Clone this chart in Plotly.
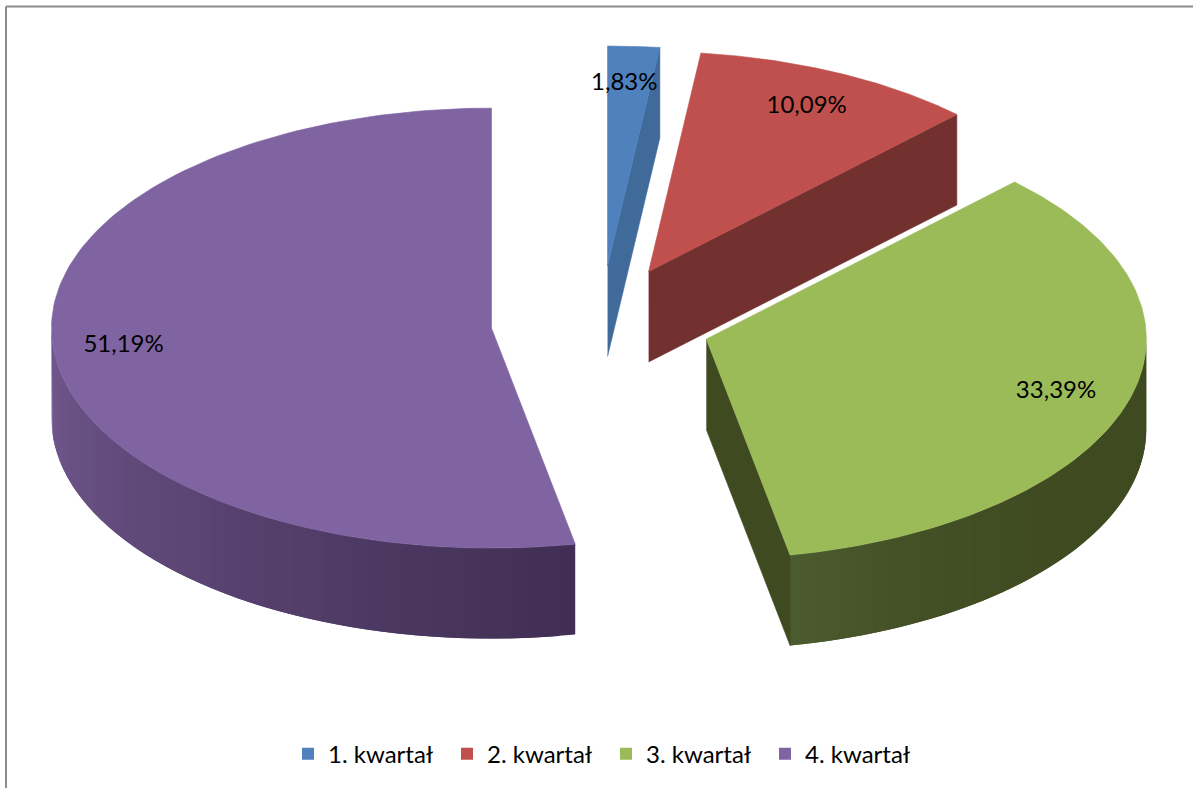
import numpy as np
import plotly.graph_objects as go

# Data
categories = ["1. kwartał", "2. kwartał", "3. kwartał", "4. kwartał"]
values = [1.83, 10.09, 33.39, 51.19]
value_labels = ["1,83%", "10,09%", "33,39%", "51,19%"]

# Styling
top_colors = ["#4f81bd", "#c0504d", "#9bbb59", "#8064a2"]
face_colors = ["#3f6a9a", "#72302f", "#404a21", None]
rim_lo = [None, None, "#3f4a20", "#3f2e53"]   # colour where the visible rim starts
rim_hi = [None, None, "#4c5c2e", "#72598f"]   # colour where the visible rim ends
rim_gamma = [1, 1, 4, 1]

# Projection of the 3D pie on the page (pixels)
W, H = 1193, 788
CX, CY = 601, 322.7
RX, RY = 440, 220
DEPTH = 90.5
EXPLODE_X, EXPLODE_Y = 110, 56.8
LABEL_R = [0.83, 0.83, 0.83, 0.84]
LABEL_DX = [-5, 0, 0, 0]

shares = np.array(values) / np.sum(values)
edges = np.concatenate([[0], np.cumsum(shares) * 2 * np.pi])


def apex(i):
    mid = (edges[i] + edges[i + 1]) / 2
    return CX + EXPLODE_X * np.sin(mid), CY - EXPLODE_Y * np.cos(mid)


def on_rim(i, theta, r=1.0):
    ax, ay = apex(i)
    return ax + RX * r * np.sin(theta), ay - RY * r * np.cos(theta)


def hex2rgb(h):
    return np.array([int(h[j:j + 2], 16) for j in (1, 3, 5)], float)


def mix(a, b, t):
    c = hex2rgb(a) * (1 - t) + hex2rgb(b) * t
    return "rgb(%d,%d,%d)" % tuple(c.round())


def poly(fig, xs, ys, color, width=0.6):
    fig.add_trace(go.Scatter(
        x=list(xs), y=list(ys), mode="lines", fill="toself", fillcolor=color,
        line=dict(color=color, width=width), hoverinfo="skip", showlegend=False))


fig = go.Figure()

for i in [3, 0, 1, 2]:
    a0, a1 = edges[i], edges[i + 1]
    ax, ay = apex(i)

    # side walls: outer rim in the front half, built from overlapping strips
    lo, hi = max(a0, np.pi / 2), min(a1, 3 * np.pi / 2)
    if hi > lo and rim_lo[i]:
        n = 48
        cuts = np.linspace(lo, hi, n + 1)
        # purple darkens towards its low angle; each strip runs on to the far end
        # so the next one paints over it and no seam is left
        for k in range(n):
            t = np.linspace(cuts[k], cuts[min(k + 2, n)], 6)
            xr, yr = on_rim(i, t)
            xs = np.concatenate([xr, xr[::-1]])
            ys = np.concatenate([yr, yr[::-1] + DEPTH])
            poly(fig, xs, ys, mix(rim_lo[i], rim_hi[i], ((k + 0.5) / n) ** rim_gamma[i]), width=0)

    # flat cut face at the visible end of the wedge
    if face_colors[i]:
        ex, ey = on_rim(i, a1)
        poly(fig, [ax, ex, ex, ax], [ay, ey, ey + DEPTH, ay + DEPTH], face_colors[i])

    # top of the wedge
    t = np.linspace(a0, a1, 160)
    xr, yr = on_rim(i, t)
    poly(fig, np.r_[ax, xr, ax], np.r_[ay, yr, ay], top_colors[i])

# data labels
for i, lab in enumerate(value_labels):
    mid = (edges[i] + edges[i + 1]) / 2
    lx, ly = on_rim(i, mid, LABEL_R[i])
    fig.add_trace(go.Scatter(
        x=[lx + LABEL_DX[i]], y=[ly], mode="text", text=[lab], textposition="middle center",
        textfont=dict(family="Lato", size=24, color="#000000"),
        hoverinfo="skip", showlegend=False))

# legend entries
for name, col in zip(categories, top_colors):
    fig.add_trace(go.Scatter(
        x=[None], y=[None], mode="markers", name=name,
        marker=dict(symbol="square", size=14, color=col)))

fig.update_layout(
    width=W, height=H, margin=dict(l=0, r=0, t=0, b=0),
    paper_bgcolor="#ffffff", plot_bgcolor="#ffffff",
    xaxis=dict(range=[0, W], visible=False, fixedrange=True),
    yaxis=dict(range=[H, 0], visible=False, fixedrange=True),
    legend=dict(orientation="h", x=288 / W, xanchor="left", y=0.043, yanchor="middle",
                font=dict(family="Lato", size=24, color="#000000"),
                itemsizing="constant", itemwidth=30, traceorder="normal",
                entrywidth=114, entrywidthmode="pixels",
                bgcolor="rgba(0,0,0,0)"),
    shapes=[
        dict(type="line", xref="paper", yref="paper", x0=6 / W, x1=1, y0=1 - 6.5 / H, y1=1 - 6.5 / H,
             line=dict(color="#8c8c8c", width=2)),
        dict(type="line", xref="paper", yref="paper", x0=6 / W, x1=6 / W, y0=0, y1=1 - 6.5 / H,
             line=dict(color="#8c8c8c", width=2)),
    ],
)

fig.write_html("out.html", config={"displayModeBar": False},
               post_script="document.body.style.margin='0';document.body.style.overflow='hidden';")
